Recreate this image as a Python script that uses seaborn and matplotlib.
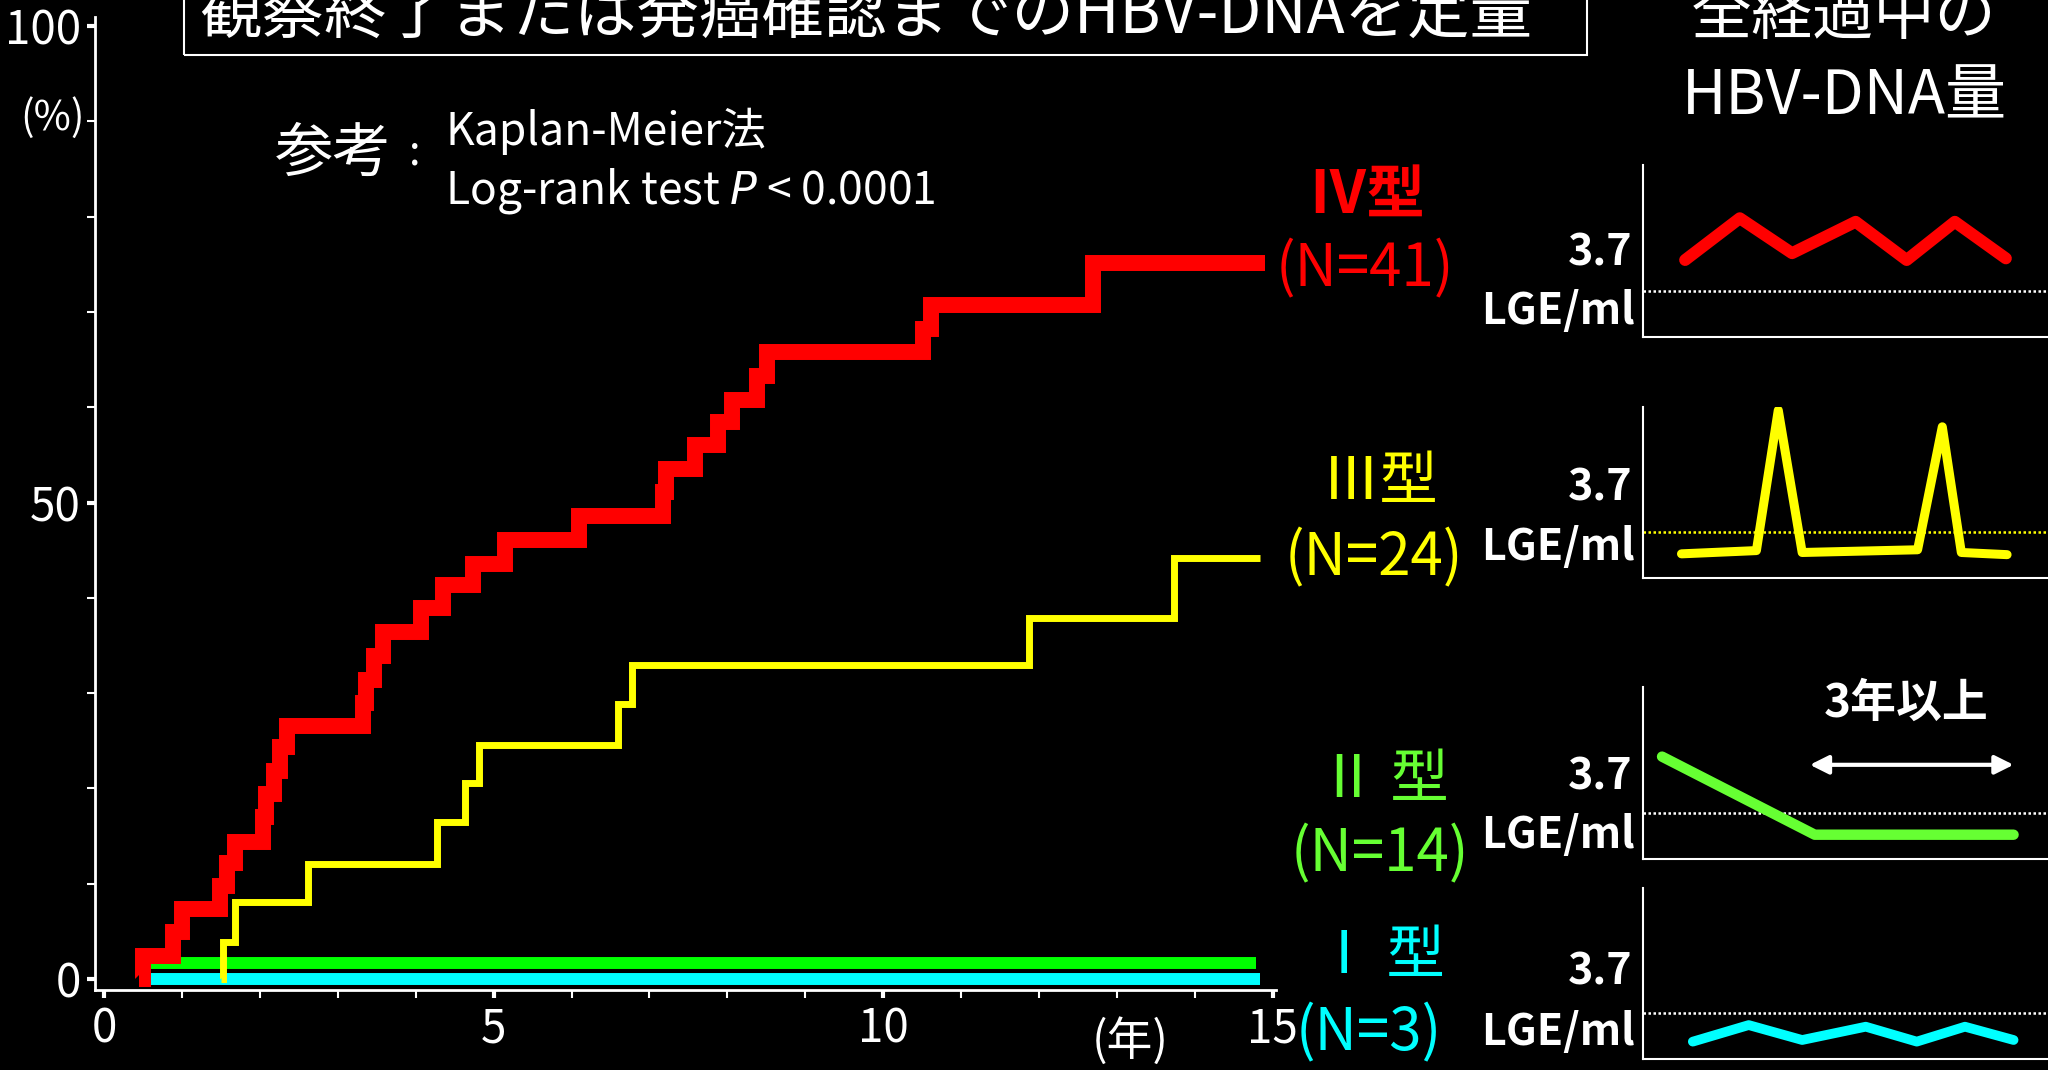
import numpy as np
import pandas as pd
import matplotlib
matplotlib.use("Agg")
import matplotlib.pyplot as plt
from matplotlib.patches import Rectangle
from matplotlib.ticker import MultipleLocator
import seaborn as sns

# cumulative HCC incidence (Kaplan-Meier), years vs %
red_years = [0.45, 0.49, 0.88, 1.00, 1.49, 1.58, 1.68, 2.04, 2.08, 2.18, 2.26, 2.34,
             3.32, 3.36, 3.46, 3.58, 4.06, 4.35, 4.74, 5.15, 6.10, 7.17, 7.21, 7.59,
             7.88, 8.06, 8.38, 8.51, 10.51, 10.62, 12.70, 14.90]
red_pct = [0, 2.4, 4.9, 7.3, 9.8, 12.2, 14.4, 17.0, 19.4, 21.8, 24.3, 26.5,
           29.0, 31.4, 33.9, 36.4, 38.9, 41.3, 43.6, 46.1, 48.6, 51.1, 53.5, 56.0,
           58.4, 60.8, 63.3, 65.8, 68.2, 70.7, 75.1, 75.1]
yellow_years = [1.50, 1.52, 1.68, 2.62, 4.27, 4.63, 4.81, 6.60, 6.77, 11.87, 13.73, 14.84]
yellow_pct = [0, 3.9, 8.1, 12.1, 16.5, 20.6, 24.6, 28.9, 33.0, 37.9, 44.2, 44.2]
green_years = [0.54, 14.79]
green_pct = [1.65, 1.65]
cyan_years = [0.54, 14.84]
cyan_pct = [0.0, 0.0]

group_names = ["Ⅳ型", "Ⅲ型", "Ⅱ 型", "Ⅰ 型"]
group_n = ["(N=41)", "(N=24)", "(N=14)", "(N=3)"]
group_colors = ["#ff0000", "#ffff00", "#66ff33", "#00ffff"]

# HBV-DNA course in the small panels (log LGE/ml)
iv_x = [1.04, 2.39, 3.68, 5.25, 6.51, 7.70, 8.96]
iv_y = [4.82, 6.35, 5.07, 6.22, 4.82, 6.22, 4.88]
iii_x = [0.95, 2.80, 3.34, 3.93, 6.78, 7.39, 7.86, 8.99]
iii_y = [2.89, 3.01, 8.18, 2.94, 3.04, 7.57, 2.94, 2.86]
ii_x = [0.47, 4.24, 9.15]
ii_y = [5.75, 2.89, 2.89]
i_x = [1.23, 2.61, 3.93, 5.50, 6.76, 7.95, 9.15]
i_y = [2.64, 3.25, 2.70, 3.19, 2.64, 3.19, 2.70]
threshold = 3.7
span_x = [4.12, 9.15]
span_y = 5.45

sns.set_theme(style="ticks", rc={
    "figure.facecolor": "black", "axes.facecolor": "black",
    "axes.edgecolor": "white", "text.color": "white",
    "xtick.color": "white", "ytick.color": "white",
    "axes.labelcolor": "white",
})
plt.rcParams['font.family'] = ['Noto Sans CJK JP', 'DejaVu Sans']

W, H = 2048, 1070
fig = plt.figure(figsize=(W / 100, H / 100), dpi=100)


def ftext(x, y, s, **kw):
    # x, y in pixels from top-left
    return fig.text(x / W, 1 - y / H, s, **kw)


# main KM axes
ax = fig.add_axes([95 / W, 1 - 989.5 / H, 1181.4 / W, 973 / H])
sns.lineplot(x=cyan_years, y=cyan_pct, ax=ax, color="#00ffff", lw=8.6,
             solid_capstyle="butt", estimator=None, sort=False)
sns.lineplot(x=green_years, y=green_pct, ax=ax, color="#00ff00", lw=8.6,
             solid_capstyle="butt", estimator=None, sort=False)
sns.lineplot(x=yellow_years, y=yellow_pct, ax=ax, color="#ffff00", lw=5,
             drawstyle="steps-post", solid_joinstyle="miter",
             solid_capstyle="butt", estimator=None, sort=False)
sns.lineplot(x=red_years, y=red_pct, ax=ax, color="#ff0000", lw=11.5,
             drawstyle="steps-post", solid_joinstyle="miter",
             solid_capstyle="butt", estimator=None, sort=False)

ax.set_xlim(-0.12, 15.05)
ax.set_ylim(-1.1, 101)
ax.set_xticks([0, 5, 10, 15])
ax.set_yticks([0, 50, 100])
ax.xaxis.set_minor_locator(MultipleLocator(1))
ax.yaxis.set_minor_locator(MultipleLocator(10))
ax.tick_params(axis="both", which="major", length=6, width=3, labelsize=33)
ax.tick_params(axis="both", which="minor", length=6, width=1.5)
ax.tick_params(axis="x", pad=5)
ax.tick_params(axis="y", pad=4)
ax.set_xlabel("")
ax.set_ylabel("")
sns.despine(ax=ax)
for s in ["left", "bottom"]:
    ax.spines[s].set_linewidth(2)
    ax.spines[s].set_color("white")

ftext(52, 118, "(%)", fontsize=29, ha="center", va="center")
ftext(1130, 1042, "(年)", fontsize=33, ha="center", va="center")

# title box
fig.add_artist(Rectangle((184 / W, 1 - 55 / H), (1587 - 184) / W, 0.2,
                         transform=fig.transFigure, fill=False, ec="white", lw=1.5))
ftext(866, 34, "観察終了または発癌確認までのHBV-DNAを定量", fontsize=45,
      ha="center", va="baseline")
ftext(1844, 34, "全経過中の", fontsize=44, ha="center", va="baseline")
ftext(1844, 114, "HBV-DNA量", fontsize=44, ha="center", va="baseline")

ftext(333, 154, "参考", fontsize=42, ha="center", va="center")
ftext(415, 153, ":", fontsize=30, ha="center", va="center")
ftext(445, 131, "Kaplan-Meier法", fontsize=32, ha="left", va="center")
ftext(445, 191, "Log-rank test $P$ < 0.0001", fontsize=32, ha="left", va="center")

# group labels
name_pos = [(1367, 196), (1380, 483), (1384, 780), (1380, 957)]
n_pos = [(1365, 270), (1374, 559), (1380, 855), (1369, 1034)]
for i in range(4):
    ftext(name_pos[i][0], name_pos[i][1], group_names[i], color=group_colors[i],
          fontsize=42, ha="center", va="center",
          fontweight="bold" if i == 0 else "normal")
    ftext(n_pos[i][0], n_pos[i][1], group_n[i], color=group_colors[i],
          fontsize=42, ha="center", va="center")

# small HBV-DNA panels
panel_box = [(337, 172), (578, 171), (859, 172), (1059, 171)]
panel_x = [iv_x, iii_x, ii_x, i_x]
panel_y = [iv_y, iii_y, ii_y, i_y]
panel_lw = [8.6, 6.5, 7.5, 7]
dot_colors = ["white", "#ffff00", "white", "white"]
label_fr = [(0.49, 0.15), (0.53, 0.18), (0.48, 0.14), (0.51, 0.16)]
for i in range(4):
    bot, hgt = panel_box[i]
    pax = fig.add_axes([1643 / W, 1 - bot / H, (W - 1643) / W, hgt / H])
    pax.axhline(threshold, color=dot_colors[i], lw=1.8, ls=(0, (1, 1)))
    sns.lineplot(x=panel_x[i], y=panel_y[i], ax=pax, color=group_colors[i],
                 lw=panel_lw[i], estimator=None, sort=False)
    pax.set_xlim(0, 10)
    pax.set_ylim(2, 8.3)
    pax.set_xticks([])
    pax.set_yticks([])
    pax.set_xlabel("")
    pax.set_ylabel("")
    sns.despine(ax=pax)
    for s in ["left", "bottom"]:
        pax.spines[s].set_linewidth(1.5)
        pax.spines[s].set_color("white")
    pax.text(-0.025, label_fr[i][0], "3.7", transform=pax.transAxes, fontsize=31,
             fontweight="bold", ha="right", va="center")
    pax.text(-0.02, label_fr[i][1], "LGE/ml", transform=pax.transAxes, fontsize=31,
             fontweight="bold", ha="right", va="center")
    if i == 2:
        pax.annotate("", xy=(span_x[1], span_y), xytext=(span_x[0], span_y),
                     arrowprops=dict(arrowstyle="<|-|>", color="white", lw=3,
                                     mutation_scale=28, shrinkA=0, shrinkB=0))
        pax.text(6.5, 7.69, "3年以上", fontsize=33, fontweight="bold",
                 ha="center", va="center")

fig.savefig("out.png", dpi=100, facecolor="black")
